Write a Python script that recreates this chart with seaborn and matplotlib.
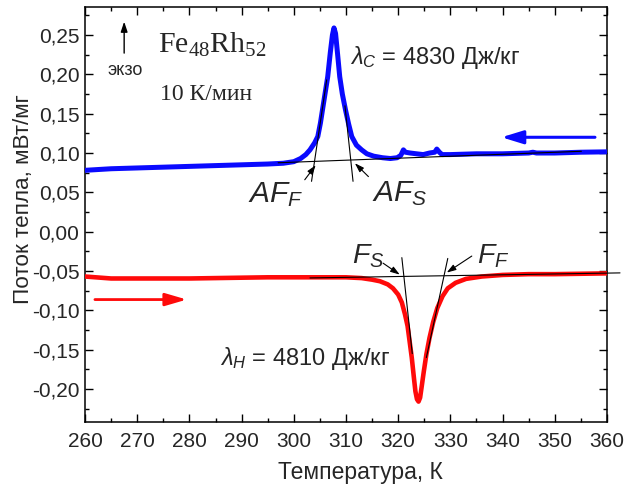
import matplotlib
matplotlib.use("Agg")
import matplotlib.pyplot as plt
from matplotlib.ticker import MultipleLocator, FuncFormatter
import pandas as pd
import seaborn as sns

# DSC run on cooling (exothermic peak), temperature in K, heat flow in mW/mg
cool_T = [260, 265, 270, 275, 280, 285, 290, 295, 298, 300, 301.3, 302.3, 303.1,
          304.0, 304.6, 305.1, 305.5, 306.0, 306.5, 307.0, 307.4, 307.7, 308.0,
          308.4, 308.8, 309.3, 309.9, 310.5, 311.1, 312.0, 313.0, 314.0, 315.3,
          317.0, 318.5, 319.8, 320.5, 321.0, 321.4, 322.3, 323.5, 324.8, 326.0,
          327.0, 327.4, 327.9, 328.4, 330, 335, 340, 345, 345.8, 346.5, 350, 355, 360]
cool_q = [0.078, 0.080, 0.081, 0.082, 0.083, 0.084, 0.085, 0.086, 0.087, 0.089,
          0.093, 0.098, 0.104, 0.113, 0.121, 0.138, 0.155, 0.176, 0.197, 0.228,
          0.250, 0.259, 0.252, 0.225, 0.197, 0.175, 0.155, 0.137, 0.121, 0.110,
          0.104, 0.099, 0.096, 0.094, 0.093, 0.094, 0.097, 0.104, 0.101, 0.100,
          0.099, 0.098, 0.100, 0.101, 0.105, 0.101, 0.098, 0.098, 0.099, 0.099,
          0.100, 0.101, 0.100, 0.100, 0.101, 0.1015]

# DSC run on heating (endothermic peak)
heat_T = [260, 262, 265, 270, 275, 280, 285, 290, 295, 300, 305, 310, 313, 315,
          316.5, 318, 319, 320, 320.7, 321.3, 321.8, 322.2, 322.6, 323.0, 323.3,
          323.6, 323.9, 324.2, 324.5, 324.9, 325.4, 326.0, 326.7, 327.5, 328.5,
          329.5, 331, 333, 336, 340, 345, 350, 355, 360]
heat_q = [-0.057, -0.058, -0.0595, -0.0595, -0.0595, -0.0595, -0.059, -0.0585,
          -0.058, -0.058, -0.058, -0.058, -0.059, -0.061, -0.063, -0.067, -0.072,
          -0.080, -0.090, -0.105, -0.120, -0.140, -0.160, -0.185, -0.203, -0.213,
          -0.216, -0.211, -0.197, -0.178, -0.156, -0.135, -0.115, -0.097, -0.082,
          -0.072, -0.065, -0.060, -0.057, -0.055, -0.054, -0.054, -0.0535, -0.053]

# construction lines (baselines and inflection tangents)
cool_base_T, cool_base_q = [297.0, 355.1], [0.0876, 0.1022]
cool_left_T, cool_left_q = [303.4, 306.3], [0.064, 0.193]
cool_right_T, cool_right_q = [311.35, 309.8], [0.064, 0.160]
heat_base_T, heat_base_q = [303.1, 362.5], [-0.0588, -0.0524]
heat_left_T, heat_left_q = [320.7, 322.7], [-0.033, -0.155]
heat_right_T, heat_right_q = [329.5, 325.4], [-0.034, -0.160]

x_ticks = list(range(260, 361, 10))
y_ticks = [-0.20, -0.15, -0.10, -0.05, 0.00, 0.05, 0.10, 0.15, 0.20, 0.25]

sns.set_style("ticks")
plt.rcParams["font.family"] = ["Liberation Sans", "DejaVu Sans"]
plt.rcParams["mathtext.fontset"] = "custom"
plt.rcParams["mathtext.rm"] = "Liberation Sans"
plt.rcParams["mathtext.it"] = "Liberation Sans:italic"
plt.rcParams["mathtext.bf"] = "Liberation Sans:bold"

fig = plt.figure(figsize=(6.26, 4.90), dpi=100)
ax = fig.add_axes([0.1358, 0.1382, 0.8338, 0.8475])

cool = pd.DataFrame({"T": cool_T, "q": cool_q})
heat = pd.DataFrame({"T": heat_T, "q": heat_q})
sns.lineplot(data=cool, x="T", y="q", color="#0a0aff", lw=3.6, ax=ax,
             solid_capstyle="round", solid_joinstyle="round", zorder=3)
sns.lineplot(data=heat, x="T", y="q", color="#ff0a0a", lw=3.3, ax=ax,
             solid_capstyle="round", solid_joinstyle="round", zorder=3)

for tx, qy in [(cool_base_T, cool_base_q), (cool_left_T, cool_left_q),
               (cool_right_T, cool_right_q), (heat_left_T, heat_left_q),
               (heat_right_T, heat_right_q)]:
    ax.plot(tx, qy, color="black", lw=0.8, zorder=4)
ax.plot(heat_base_T, heat_base_q, color="black", lw=0.8, zorder=4, clip_on=False)

ax.set_xlim(260, 360)
ax.set_ylim(-0.2423, 0.2856)
ax.set_xticks(x_ticks)
ax.set_yticks(y_ticks)
ax.xaxis.set_minor_locator(MultipleLocator(5))
ax.yaxis.set_minor_locator(MultipleLocator(0.025))
ax.yaxis.set_major_formatter(FuncFormatter(lambda v, p: f"{v:.2f}".replace(".", ",")))
ax.tick_params(which="both", direction="in", top=True, right=True, width=1.0,
               color="black")
ax.tick_params(which="major", length=5.8, labelsize=15)
ax.tick_params(which="minor", length=3.1)
ax.tick_params(axis="x", which="major", pad=7)
ax.tick_params(axis="y", which="major", pad=4)
for s in ax.spines.values():
    s.set_linewidth(1.1)
    s.set_color("black")

ax.set_xlabel("Температура, К", fontsize=16.5)
ax.set_ylabel("Поток тепла, мВт/мг", fontsize=16.2)
ax.xaxis.set_label_coords(0.527, -0.093)
ax.yaxis.set_label_coords(-0.098, 0.538)

# direction-of-scan arrows
ax.annotate("", xy=(339.8, 0.120), xytext=(357.7, 0.120),
            arrowprops=dict(arrowstyle="-|>,head_length=1.3,head_width=0.4",
                            mutation_scale=10, color="#0a0aff", lw=2.2,
                            shrinkA=0, shrinkB=0))
ax.annotate("", xy=(279.5, -0.0863), xytext=(261.9, -0.0863),
            arrowprops=dict(arrowstyle="-|>,head_length=1.3,head_width=0.38",
                            mutation_scale=10, color="#ff0a0a", lw=2.0,
                            shrinkA=0, shrinkB=0))
# exo direction
ax.annotate("", xy=(267.5, 0.267), xytext=(267.5, 0.227),
            arrowprops=dict(arrowstyle="-|>,head_length=0.6,head_width=0.2",
                            mutation_scale=10, color="black", lw=1.0,
                            shrinkA=0, shrinkB=0))
ax.text(267.7, 0.2043, "экзо", fontsize=13, ha="center", va="center")

ax.text(274.0, 0.2275, r"Fe$\mathregular{_{48}}$Rh$\mathregular{_{52}}$",
        fontsize=21.5, family="Liberation Serif", va="baseline", ha="left")
ax.text(274.4, 0.1675, "10 К/мин", fontsize=17, family="Liberation Serif",
        va="baseline", ha="left")

ax.text(310.8, 0.213, r"$\lambda_C$ = 4830 Дж/кг", fontsize=17, va="baseline")
ax.text(285.9, -0.169, r"$\lambda_H$ = 4810 Дж/кг", fontsize=17, va="baseline")

# characteristic temperature labels with pointers
thin = dict(arrowstyle="-|>,head_length=0.55,head_width=0.18", mutation_scale=10,
            color="black", lw=0.8, shrinkA=0, shrinkB=0)
ax.text(291.2, 0.037, r"$AF_F$", fontsize=21.5, va="baseline")
ax.annotate("", xy=(304.2, 0.0845), xytext=(302.1, 0.066), arrowprops=thin)
ax.text(314.9, 0.039, r"$AF_S$", fontsize=21.5, va="baseline")
ax.annotate("", xy=(311.7, 0.087), xytext=(314.3, 0.070), arrowprops=thin)
ax.text(311.2, -0.040, r"$F_S$", fontsize=20.5, va="baseline")
ax.annotate("", xy=(320.3, -0.0546), xytext=(317.1, -0.040), arrowprops=thin)
ax.text(335.1, -0.040, r"$F_F$", fontsize=20.5, va="baseline")
ax.annotate("", xy=(329.3, -0.052), xytext=(334.1, -0.031), arrowprops=thin)

fig.savefig("out.png", dpi=100)
